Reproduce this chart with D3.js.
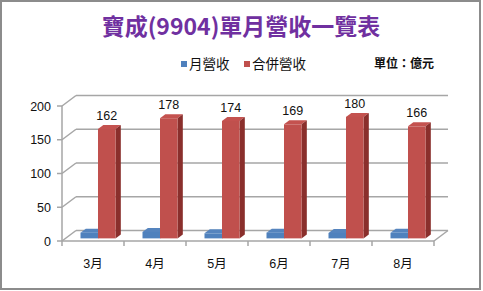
<!DOCTYPE html>
<html><head><meta charset="utf-8">
<script src="https://cdn.jsdelivr.net/npm/d3@7"></script>
<style>html,body{margin:0;padding:0;background:#fff;}svg{display:block;}</style>
</head><body>
<script>
const months = ["3月","4月","5月","6月","7月","8月"];
const seriesNames = ["月營收","合併營收"];
const monthly = [8.5, 9.5, 7.5, 8.5, 8, 8.2];
const consolidated = [162, 178, 174, 169, 180, 166];
const yTicks = [0, 50, 100, 150, 200];
const title = "寶成(9904)單月營收一覽表";
const unitLabel = "單位：億元";

const W = 483, H = 291;
const svg = d3.select("body").append("svg").attr("width", W).attr("height", H);
svg.append("rect").attr("x",1).attr("y",1).attr("width",W-4).attr("height",H-3)
  .attr("fill","#fff").attr("stroke","#8c8c8c").attr("stroke-width",2);

const x = d3.scaleBand().domain(months).range([62, 434]);
const y = d3.scaleLinear().domain([0, 200]).range([241, 106]);
const DX = 14, DY = -10.5; // full depth offset
const inner = d3.scaleBand().domain(seriesNames).range([15, 50]);
const tFront = 0.25, tBack = 0.63;
const colors = {
  "月營收": {front:"#4F81BD", top:"#5584BE", side:"#385D8A"},
  "合併營收": {front:"#C0504D", top:"#C4524F", side:"#8A2F2C"}
};
const grid = "#a6a6a6";

// gridlines (back wall + left wall diagonals)
yTicks.forEach(v => {
  const yf = y(v);
  svg.append("line").attr("x1",57).attr("y1",yf).attr("x2",62).attr("y2",yf).attr("stroke",grid).attr("stroke-width",1.5);
  svg.append("line").attr("x1",62).attr("y1",yf).attr("x2",62+DX).attr("y2",yf+DY).attr("stroke",grid).attr("stroke-width",1.5);
  svg.append("line").attr("x1",62+DX).attr("y1",yf+DY).attr("x2",434+DX).attr("y2",yf+DY).attr("stroke",grid).attr("stroke-width",1.5);
  svg.append("text").attr("x",51).attr("y",yf+4.5).attr("text-anchor","end")
    .attr("font-family","Liberation Sans, Arial, sans-serif").attr("font-size",12.5).attr("fill","#111").text(v);
});
// left axis
svg.append("line").attr("x1",62).attr("y1",y(200)).attr("x2",62).attr("y2",y(0)).attr("stroke",grid).attr("stroke-width",1.5);
// floor
svg.append("line").attr("x1",62).attr("y1",y(0)).attr("x2",434).attr("y2",y(0)).attr("stroke",grid).attr("stroke-width",1.5);
svg.append("line").attr("x1",434).attr("y1",y(0)).attr("x2",434+DX).attr("y2",y(0)+DY).attr("stroke",grid).attr("stroke-width",1.5);
// category ticks
d3.range(months.length+1).forEach(i => {
  const xx = 62 + i*x.step();
  svg.append("line").attr("x1",xx).attr("y1",y(0)).attr("x2",xx).attr("y2",y(0)+5).attr("stroke",grid).attr("stroke-width",1.5);
});
// category labels
svg.selectAll("text.cat").data(months).enter().append("text").attr("class","cat")
  .attr("x", d => x(d) + x.bandwidth()/2).attr("y", 268).attr("text-anchor","middle")
  .attr("font-family","Liberation Sans, 'Noto Sans CJK TC', sans-serif").attr("font-size",12.5).attr("fill","#111").text(d => d);

// bars
function bar(cx, w, v, c) {
  const fx = tFront*DX, fy = tFront*DY, ddx = (tBack-tFront)*DX, ddy = (tBack-tFront)*DY;
  const x0 = cx + fx, yb = y(0) + fy, yt = y(v) + fy;
  const g = svg.append("g");
  g.append("polygon").attr("points", [[x0,yt],[x0+w,yt],[x0+w+ddx,yt+ddy],[x0+ddx,yt+ddy]].join(" ")).attr("fill", c.top);
  g.append("polygon").attr("points", [[x0+w,yt],[x0+w+ddx,yt+ddy],[x0+w+ddx,yb+ddy],[x0+w,yb]].join(" ")).attr("fill", c.side);
  g.append("rect").attr("x",x0).attr("y",yt).attr("width",w).attr("height",yb-yt).attr("fill", c.front);
  return {x0, yt, w};
}
months.forEach((m, i) => {
  const b1 = bar(x(m) + inner("月營收"), inner.bandwidth(), monthly[i], colors["月營收"]);
  const b2 = bar(x(m) + inner("合併營收"), inner.bandwidth(), consolidated[i], colors["合併營收"]);
  svg.append("text").attr("x", b2.x0 + b2.w/2).attr("y", b2.yt - 9).attr("text-anchor","middle")
    .attr("font-family","Liberation Sans, Arial, sans-serif").attr("font-size",12.5).attr("fill","#111").text(consolidated[i]);
});

// title
svg.append("text").attr("x",241).attr("y",35).attr("text-anchor","middle")
  .attr("font-family","'Noto Sans CJK TC', sans-serif").attr("font-weight","bold").attr("font-size",23)
  .attr("fill","#7030A0").text(title);

// legend
const legendX = [181, 244];
seriesNames.forEach((s, i) => {
  svg.append("rect").attr("x",legendX[i]).attr("y",61).attr("width",6).attr("height",6).attr("fill",colors[s].front);
  svg.append("text").attr("x",legendX[i]+8).attr("y",68.5)
    .attr("font-family","'Noto Sans CJK TC', sans-serif").attr("font-size",13.5).attr("fill","#111").text(s);
});
svg.append("text").attr("x",374).attr("y",68).attr("font-family","'Noto Sans CJK TC', sans-serif")
  .attr("font-weight","bold").attr("font-size",12).attr("fill","#111").text(unitLabel);
</script>
</body></html>
